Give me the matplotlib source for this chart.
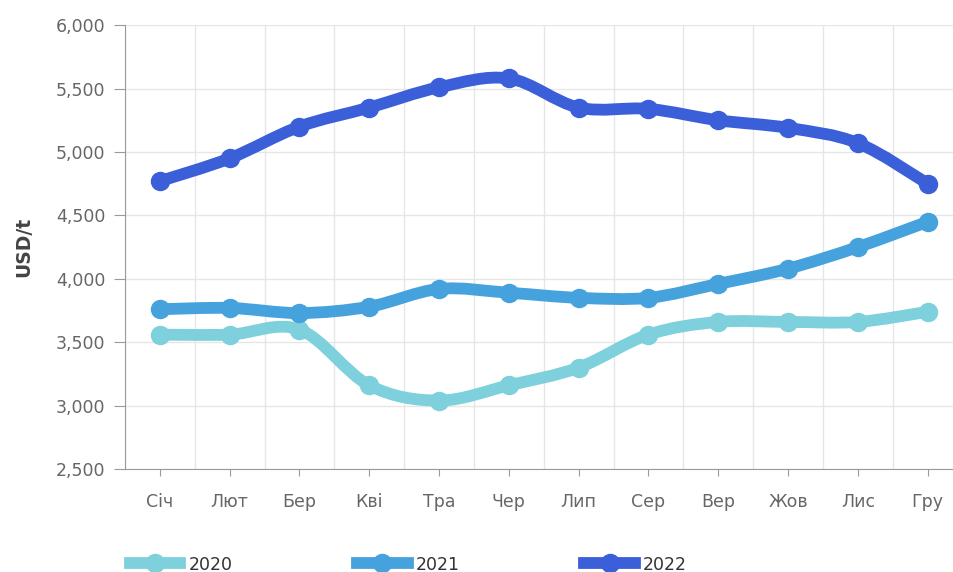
import numpy as np
import matplotlib.pyplot as plt
from matplotlib.path import Path
from matplotlib.patches import PathPatch
from matplotlib.lines import Line2D
from matplotlib.ticker import FuncFormatter

months = ["Січ", "Лют", "Бер", "Кві", "Тра", "Чер", "Лип", "Сер", "Вер", "Жов", "Лис", "Гру"]
years = ["2020", "2021", "2022"]
prices_2020 = [3560, 3560, 3600, 3160, 3040, 3160, 3300, 3560, 3660, 3660, 3660, 3740]
prices_2021 = [3760, 3770, 3730, 3780, 3920, 3890, 3850, 3850, 3960, 4080, 4250, 4450]
prices_2022 = [4770, 4950, 5200, 5350, 5510, 5580, 5350, 5340, 5250, 5190, 5070, 4750]
colors = ["#7dd0dc", "#45a2dc", "#3b5fd9"]


def smooth_path(x, y, k=1 / 6):
    # catmull-rom style bezier through the points
    x = np.asarray(x, float)
    y = np.asarray(y, float)
    verts = [(x[0], y[0])]
    codes = [Path.MOVETO]
    n = len(x)
    for i in range(n - 1):
        x0, y0 = (x[i - 1], y[i - 1]) if i > 0 else (x[i], y[i])
        x3, y3 = (x[i + 2], y[i + 2]) if i + 2 < n else (x[i + 1], y[i + 1])
        c1 = (x[i] + (x[i + 1] - x0) * k, y[i] + (y[i + 1] - y0) * k)
        c2 = (x[i + 1] - (x3 - x[i]) * k, y[i + 1] - (y3 - y[i]) * k)
        verts += [c1, c2, (x[i + 1], y[i + 1])]
        codes += [Path.CURVE4] * 3
    return Path(verts, codes)


fig = plt.figure(figsize=(9.54, 5.72), dpi=100)
ax = fig.add_axes([0.131, 0.18, 0.878, 0.776])

xs = np.arange(len(months))
series = [prices_2020, prices_2021, prices_2022]
handles = []
for vals, col, lab in zip(series, colors, years):
    ax.add_patch(PathPatch(smooth_path(xs, vals), facecolor="none", edgecolor=col,
                           lw=8.5, capstyle="round", joinstyle="round", zorder=3))
    ax.plot(xs, vals, "o", color=col, ms=13, zorder=4)
    handles.append(Line2D([], [], color=col, lw=8.5, marker="o", ms=13, label=lab))

ax.set_xlim(-0.5, 11.5)
ax.set_ylim(2500, 6000)
ax.set_yticks(np.arange(2500, 6001, 500))
ax.yaxis.set_major_formatter(FuncFormatter(lambda v, p: f"{int(v):,}"))
ax.set_xticks(xs)
ax.set_xticklabels(months)
ax.set_xticks(np.arange(-0.5, 12, 1), minor=True)

ax.grid(True, which="minor", axis="x", color="#e6e6e6", lw=1)
ax.grid(True, which="major", axis="y", color="#e6e6e6", lw=1)
ax.set_axisbelow(True)

for s in ["top", "right"]:
    ax.spines[s].set_visible(False)
for s in ["left", "bottom"]:
    ax.spines[s].set_color("#9a9a9a")

ax.tick_params(axis="both", which="major", colors="#9a9a9a", labelcolor="#666666",
               labelsize=12.5)
ax.tick_params(axis="y", length=8, pad=6)
ax.tick_params(axis="x", which="major", length=5, pad=12)
ax.tick_params(axis="x", which="minor", length=0)
ax.set_ylabel("USD/t", fontsize=13.5, fontweight="bold", color="#444444", labelpad=16)

fig.legend(handles=handles, loc="lower left", bbox_to_anchor=(0.12, -0.03), ncol=3,
           frameon=False, handlelength=2.9, columnspacing=7.2, fontsize=12.5,
           labelcolor="#333333", handletextpad=0.45)

fig.savefig("out.png", dpi=100)
